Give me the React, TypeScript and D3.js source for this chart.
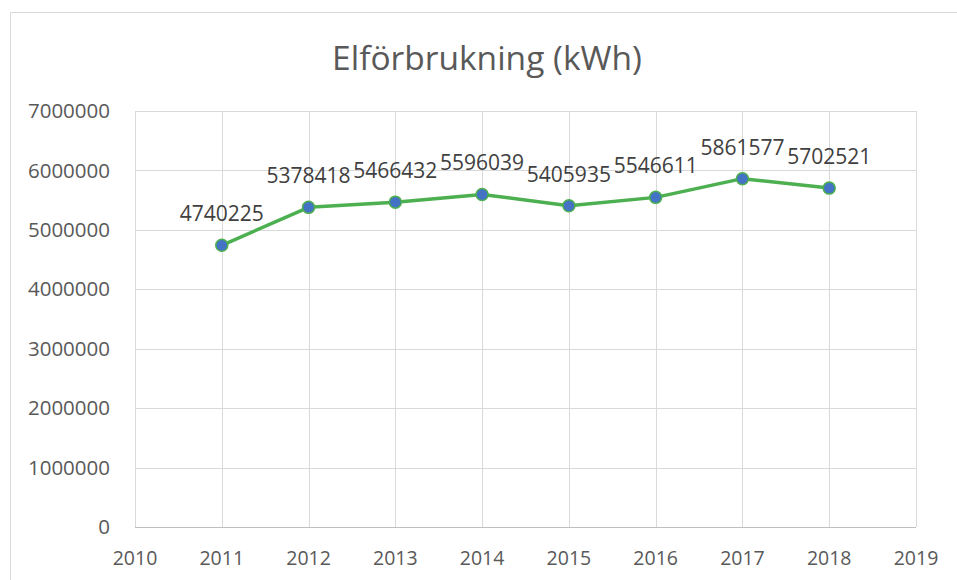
import React from "react";
import * as d3 from "d3";

const years = [2011, 2012, 2013, 2014, 2015, 2016, 2017, 2018];
const values = [4740225, 5378418, 5466432, 5596039, 5405935, 5546611, 5861577, 5702521];
const xTicks = [2010, 2011, 2012, 2013, 2014, 2015, 2016, 2017, 2018, 2019];
const yTicks = [0, 1000000, 2000000, 3000000, 4000000, 5000000, 6000000, 7000000];
const title = "Elförbrukning (kWh)";

const W = 957;
const H = 580;
const FONT = "Open Sans, sans-serif";
const TEXT = "#595959";
const GRID = "#d9d9d9";

export default function App() {
  const x = d3.scaleLinear().domain([2010, 2019]).range([135, 916]);
  const y = d3.scaleLinear().domain([0, 7000000]).range([527, 111]);
  const line = d3
    .line<number>()
    .x((_, i) => x(years[i]))
    .y((d) => y(d));

  return (
    <svg
      width={W}
      height={H}
      style={{ position: "absolute", left: 0, top: 0, background: "#fff" }}
      fontFamily={FONT}
    >
      <rect x={0} y={0} width={W} height={H} fill="#fff" />
      <path d={`M10.5,${H} V12.5 H${W}`} fill="none" stroke={GRID} strokeWidth={1} />
      <text x={487} y={70} textAnchor="middle" fontSize={33.5} fill={TEXT}>
        {title}
      </text>
      {yTicks.map((t) => (
        <g key={"y" + t}>
          <line x1={x(2010)} x2={x(2019)} y1={Math.round(y(t)) + 0.5} y2={Math.round(y(t)) + 0.5} stroke={GRID} strokeWidth={1} />
          <text x={110} y={y(t)} dy="0.35em" textAnchor="end" fontSize={20.5} fill={TEXT}>
            {t}
          </text>
        </g>
      ))}
      {xTicks.map((t) => (
        <g key={"x" + t}>
          <line x1={Math.round(x(t)) + 0.5} x2={Math.round(x(t)) + 0.5} y1={y(7000000)} y2={y(0)} stroke={GRID} strokeWidth={1} />
          <text x={x(t)} y={565} textAnchor="middle" fontSize={19.5} fill={TEXT}>
            {t}
          </text>
        </g>
      ))}
      <line x1={x(2010)} x2={x(2019)} y1={Math.round(y(0)) + 0.5} y2={Math.round(y(0)) + 0.5} stroke="#bfbfbf" strokeWidth={1} />
      <path d={line(values) || ""} fill="none" stroke="#4CAF50" strokeWidth={3.5} strokeLinejoin="round" />
      {values.map((v, i) => (
        <circle key={"c" + i} cx={x(years[i])} cy={y(v)} r={6} fill="#4472C4" stroke="#4CAF50" strokeWidth={1.5} />
      ))}
      {values.map((v, i) => (
        <text key={"l" + i} x={x(years[i])} y={y(v) - 24} textAnchor="middle" fontSize={21} fill="#404040">
          {v}
        </text>
      ))}
    </svg>
  );
}
